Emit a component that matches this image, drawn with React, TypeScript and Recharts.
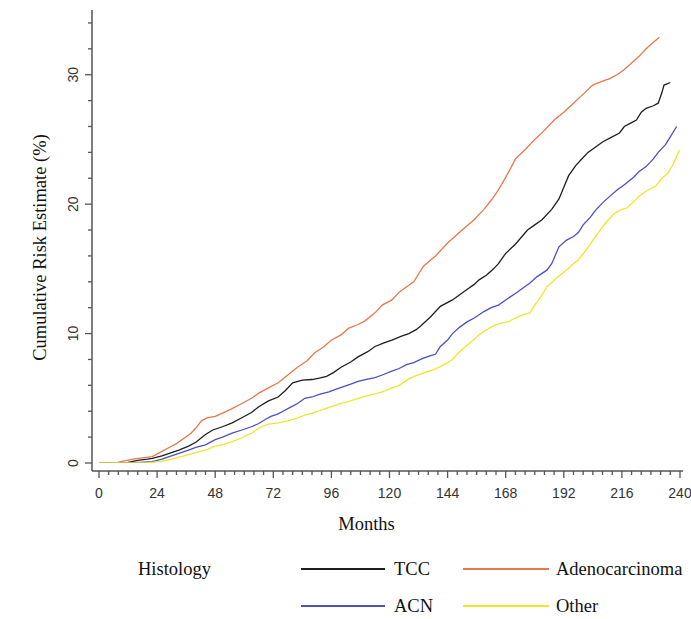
import React from 'react';
import { LineChart, Line, XAxis, YAxis, Label } from 'recharts';

// [month, cumulative risk %]
const tccCurve: number[][] = [
  [0, 0], [10, 0], [12, 0.05], [16, 0.2], [20, 0.3], [22, 0.36], [26, 0.55], [29, 0.75], [33, 1.0], [37, 1.3],
  [40, 1.6], [44, 2.2], [47, 2.55], [51, 2.8], [55, 3.1], [59, 3.5], [63, 3.9], [66, 4.35], [70, 4.8], [74, 5.1],
  [77, 5.6], [80, 6.2], [84, 6.4], [88, 6.45], [91, 6.55], [94, 6.7], [97, 7.0], [100, 7.4], [104, 7.8], [107, 8.2],
  [111, 8.6], [114, 9.0], [118, 9.3], [121, 9.5], [125, 9.8], [128, 10.0], [131, 10.3], [133, 10.6], [137, 11.3], [141, 12.1],
  [146, 12.6], [149, 13.0], [152, 13.4], [155, 13.8], [157, 14.15], [160, 14.5], [163, 15.0], [165, 15.4], [168, 16.2], [172, 16.9],
  [177, 18.0], [180, 18.4], [183, 18.8], [187, 19.6], [190, 20.4], [192, 21.3], [194, 22.2], [197, 23.0], [200, 23.6], [202, 24.0],
  [205, 24.4], [208, 24.8], [211, 25.1], [215, 25.5], [217, 26.0], [220, 26.3], [222, 26.5], [224, 27.1], [226, 27.4], [229, 27.6],
  [231, 27.8], [232.5, 28.6], [233.4, 29.2], [236, 29.4],
];

const adenoCurve: number[][] = [
  [0, 0], [7, 0], [10, 0.15], [14, 0.3], [18, 0.4], [22, 0.5], [26, 0.9], [29, 1.2], [32, 1.5], [35, 1.9],
  [38, 2.3], [40, 2.7], [42.5, 3.3], [45, 3.5], [48, 3.6], [51, 3.85], [55, 4.2], [59, 4.6], [63, 5.0], [66, 5.4],
  [70, 5.8], [74, 6.2], [78, 6.8], [82, 7.4], [86, 7.9], [89, 8.5], [93, 9.0], [96, 9.5], [100, 9.9], [103, 10.4],
  [107, 10.7], [110, 11.0], [114, 11.6], [117, 12.2], [121, 12.6], [124, 13.2], [127, 13.6], [130, 14.0], [134, 15.2], [139, 16.0],
  [144, 17.0], [150, 18.0], [155, 18.8], [159, 19.6], [162, 20.3], [165, 21.1], [169, 22.4], [172, 23.5], [176, 24.2], [180, 25.0],
  [184, 25.7], [188, 26.5], [192, 27.1], [196, 27.8], [200, 28.5], [204, 29.2], [208, 29.5], [211, 29.7], [214, 30.0], [217, 30.4],
  [220, 30.9], [223, 31.4], [226, 32.0], [229, 32.5], [231.5, 32.9],
];

const acnCurve: number[][] = [
  [0, 0], [13, 0], [17, 0.05], [22, 0.1], [26, 0.3], [29, 0.5], [33, 0.75], [37, 1.0], [40, 1.2], [44, 1.4],
  [48, 1.8], [51, 2.0], [55, 2.3], [59, 2.55], [63, 2.8], [66, 3.05], [69, 3.4], [71, 3.6], [74, 3.8], [76, 4.0],
  [79, 4.3], [82, 4.6], [85, 5.0], [88, 5.1], [91, 5.3], [95, 5.5], [98, 5.7], [101, 5.9], [104, 6.1], [107, 6.3],
  [110, 6.45], [114, 6.6], [117, 6.8], [121, 7.1], [124, 7.3], [127, 7.6], [130, 7.75], [134, 8.1], [137, 8.3], [139, 8.4],
  [141, 9.0], [144, 9.5], [146, 10.0], [149, 10.5], [152, 10.9], [155, 11.2], [159, 11.7], [162, 12.0], [165, 12.2], [168, 12.6],
  [172, 13.1], [175, 13.5], [178, 13.9], [181, 14.4], [185, 14.9], [187, 15.4], [190, 16.7], [193, 17.2], [196, 17.5], [198, 17.8],
  [200, 18.4], [203, 19.0], [205, 19.5], [208, 20.1], [211, 20.6], [214, 21.1], [217, 21.5], [221, 22.1], [223, 22.5], [226, 22.9],
  [229, 23.5], [231, 24.0], [234, 24.6], [236, 25.2], [238.6, 26.0],
];

const otherCurve: number[][] = [
  [0, 0], [20, 0], [22, 0.05], [26, 0.15], [29, 0.25], [33, 0.45], [37, 0.65], [40, 0.8], [44, 1.0], [48, 1.3],
  [51, 1.4], [55, 1.65], [59, 1.95], [63, 2.3], [67, 2.8], [70, 3.0], [74, 3.1], [78, 3.25], [81, 3.4], [85, 3.7],
  [88, 3.85], [92, 4.1], [96, 4.35], [100, 4.6], [103, 4.75], [107, 5.0], [110, 5.15], [114, 5.35], [117, 5.5], [121, 5.8],
  [124, 6.0], [128, 6.5], [131, 6.75], [134, 6.95], [138, 7.2], [141, 7.45], [144, 7.75], [146, 8.0], [149, 8.6], [152, 9.1],
  [154, 9.4], [157, 9.9], [160, 10.3], [163, 10.6], [166, 10.8], [169, 10.9], [172, 11.2], [175, 11.45], [178, 11.6], [180, 12.2],
  [182, 12.7], [185, 13.6], [189, 14.3], [193, 14.9], [196, 15.4], [198, 15.7], [201, 16.4], [204, 17.2], [207, 18.0], [210, 18.7],
  [213, 19.3], [216, 19.6], [218, 19.7], [221, 20.2], [223, 20.6], [226, 21.0], [230, 21.4], [232, 21.9], [235, 22.4], [237, 23.0],
  [239.8, 24.2],
];

const xMajorTicks = [0, 24, 48, 72, 96, 120, 144, 168, 192, 216, 240];
const xMinorTicks = [4, 8, 12, 16, 20, 28, 32, 36, 40, 44, 52, 56, 60, 64, 68, 76, 80, 84, 88, 92, 100, 104, 108, 112, 116,
  124, 128, 132, 136, 140, 148, 152, 156, 160, 164, 172, 176, 180, 184, 188, 196, 200, 204, 208, 212, 220, 224, 228, 232, 236];
const yMajorTicks = [0, 10, 20, 30];
const yMinorTicks = [2, 4, 6, 8, 12, 14, 16, 18, 22, 24, 26, 28, 32, 34];

const seriesNames = ['TCC', 'Adenocarcinoma', 'ACN', 'Other'];
const seriesCurves = [tccCurve, adenoCurve, acnCurve, otherCurve];
const seriesColors = ['#1e1e1e', '#E8784A', '#4C4EC6', '#EDE62C'];

const AXIS = '#555';
const TICK_FONT = '"Liberation Sans", Arial, sans-serif';
const SERIF = '"Liberation Serif", "Times New Roman", serif';

const xAllTicks = [...xMajorTicks, ...xMinorTicks].sort((a, b) => a - b);
const yAllTicks = [...yMajorTicks, ...yMinorTicks].sort((a, b) => a - b);

const XTick = (props: any) => {
  const { x, y, payload } = props;
  const major = xMajorTicks.includes(payload.value);
  return (
    <g>
      <line x1={x} x2={x} y1={y} y2={y + (major ? 7 : 4)} stroke={AXIS} strokeWidth={1.3} />
      {major && (
        <text x={x} y={y + 22} textAnchor="middle" dominantBaseline="central" fontFamily={TICK_FONT} fontSize={14} fill="#333">
          {payload.value}
        </text>
      )}
    </g>
  );
};

const YTick = (props: any) => {
  const { x, y, payload } = props;
  const major = yMajorTicks.includes(payload.value);
  const tx = x - 19;
  return (
    <g>
      <line x1={x - (major ? 7 : 4)} x2={x} y1={y} y2={y} stroke={AXIS} strokeWidth={1.3} />
      {major && (
        <text x={tx} y={y} transform={`rotate(-90 ${tx} ${y})`} textAnchor="middle" dominantBaseline="central" fontFamily={TICK_FONT} fontSize={14} fill="#333">
          {payload.value}
        </text>
      )}
    </g>
  );
};

const XTitle = (props: any) => {
  const vb = props.viewBox || { x: 92, y: 471, width: 591 };
  const cx = vb.x + vb.width / 2 - 21;
  return (
    <text x={cx} y={vb.y + 53} textAnchor="middle" dominantBaseline="central" fontFamily={SERIF} fontSize={18.5} fill="#111">
      Months
    </text>
  );
};

const YTitle = (props: any) => {
  const vb = props.viewBox || { x: 32, y: 10, width: 60, height: 461 };
  const cx = 40;
  const cy = vb.y + vb.height / 2 + 7;
  return (
    <text x={cx} y={cy} transform={`rotate(-90 ${cx} ${cy})`} textAnchor="middle" dominantBaseline="central" fontFamily={SERIF} fontSize={18.5} fill="#111">
      Cumulative Risk Estimate (%)
    </text>
  );
};

const legendRows = [
  { y: 569, items: [0, 1] },
  { y: 606, items: [2, 3] },
];
const legendCols = [
  { lineLeft: 301, lineWidth: 84, textLeft: 394 },
  { lineLeft: 463, lineWidth: 86, textLeft: 556 },
];

export default function App() {
  const datasets = seriesCurves.map((c) => c.map(([m, v]) => ({ m, v })));
  return (
    <div style={{ position: 'absolute', left: 0, top: 0, width: 691, height: 619, background: '#fff', overflow: 'hidden' }}>
      <LineChart width={691} height={619} margin={{ top: 10, right: 8, bottom: 118, left: 32 }}>
        <XAxis
          type="number"
          dataKey="m"
          domain={[0, 240]}
          ticks={xAllTicks}
          interval={0}
          padding={{ left: 7, right: 3 }}
          height={30}
          tickSize={0}
          tickMargin={0}
          tickLine={false}
          axisLine={{ stroke: AXIS, strokeWidth: 1.5 }}
          tick={(p: any) => <XTick {...p} />}
          allowDataOverflow
        >
          <Label content={XTitle} />
        </XAxis>
        <YAxis
          type="number"
          domain={[0, 35]}
          ticks={yAllTicks}
          interval={0}
          padding={{ top: 0, bottom: 8 }}
          width={60}
          tickSize={0}
          tickMargin={0}
          tickLine={false}
          axisLine={{ stroke: AXIS, strokeWidth: 1.5 }}
          tick={(p: any) => <YTick {...p} />}
          allowDataOverflow
        >
          <Label content={YTitle} />
        </YAxis>
        {datasets.map((d, i) => (
          <Line
            key={seriesNames[i]}
            name={seriesNames[i]}
            data={d}
            dataKey="v"
            type="linear"
            stroke={seriesColors[i]}
            strokeWidth={1.3}
            dot={false}
            activeDot={false}
            isAnimationActive={false}
          />
        ))}
      </LineChart>
      <div style={{ position: 'absolute', left: 138, top: 569, transform: 'translateY(-50%)', fontFamily: SERIF, fontSize: 18.5, color: '#111', lineHeight: 1 }}>
        Histology
      </div>
      {legendRows.map((row) =>
        row.items.map((si, ci) => (
          <React.Fragment key={seriesNames[si]}>
            <div
              style={{
                position: 'absolute',
                left: legendCols[ci].lineLeft,
                top: row.y - 1,
                width: legendCols[ci].lineWidth,
                height: 2,
                background: seriesColors[si],
              }}
            />
            <div
              style={{
                position: 'absolute',
                left: legendCols[ci].textLeft,
                top: row.y,
                transform: 'translateY(-50%)',
                fontFamily: SERIF,
                fontSize: 18.5,
                color: '#111',
                lineHeight: 1,
                whiteSpace: 'nowrap',
              }}
            >
              {seriesNames[si]}
            </div>
          </React.Fragment>
        ))
      )}
    </div>
  );
}
